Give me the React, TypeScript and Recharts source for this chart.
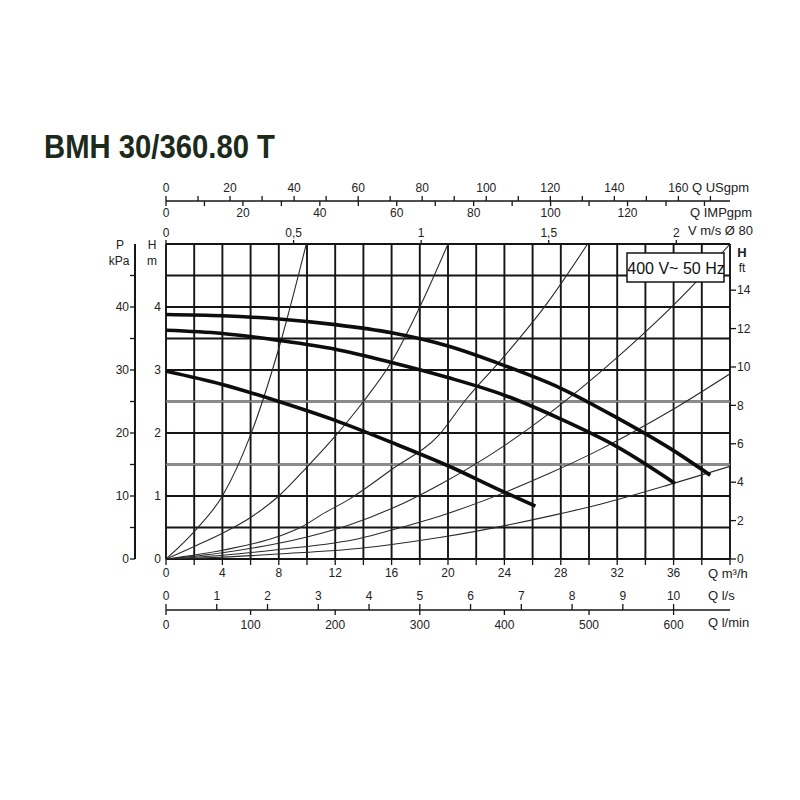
import React from 'react';
import { LineChart, Line, XAxis, YAxis, CartesianGrid, ReferenceLine } from 'recharts';

// pump curves, three speeds (Q m³/h -> H m)
const speed3Q = [0, 4, 8, 12, 16, 20, 24, 28, 32, 36, 38.6];
const speed3H = [3.88, 3.86, 3.81, 3.72, 3.59, 3.38, 3.07, 2.71, 2.24, 1.72, 1.33];
const speed2Q = [0, 4, 8, 12, 16, 20, 24, 28, 32, 36.1];
const speed2H = [3.63, 3.58, 3.47, 3.33, 3.12, 2.88, 2.6, 2.22, 1.78, 1.2];
const speed1Q = [0, 4, 8, 12, 16, 20, 24, 26.2];
const speed1H = [2.98, 2.77, 2.5, 2.2, 1.85, 1.48, 1.06, 0.84];

// system curves (thin)
const sys1Q = [0, 2.1, 4, 6, 8.2, 9.95];
const sys1H = [0, 0.46, 1.0, 1.97, 3.5, 5.0];
const sys2Q = [0, 2, 4, 6, 8, 10, 12, 14, 16, 18, 20];
const sys2H = [0, 0.2, 0.41, 0.66, 1.0, 1.46, 1.95, 2.5, 3.13, 4.0, 5.0];
const sys3Q = [0, 4, 8, 9.7, 11, 13, 16, 19.4, 21.3, 24, 27, 29.9];
const sys3H = [0, 0.14, 0.36, 0.52, 0.7, 0.95, 1.42, 1.98, 2.54, 3.22, 4.05, 5.0];
const sys4Q = [0, 4, 8, 10, 13, 16, 19.4, 24, 27, 32, 37.6, 40];
const sys4H = [0, 0.1, 0.25, 0.35, 0.54, 0.8, 1.18, 1.8, 2.28, 3.2, 4.4, 5.0];
const sys5Q = [0, 4, 8, 13.8, 16, 19.4, 27.2, 30.8, 36, 40];
const sys5H = [0, 0.06, 0.15, 0.33, 0.46, 0.68, 1.36, 1.74, 2.38, 2.94];
const sys6Q = [0, 4, 8, 13.8, 16, 19.4, 27.2, 30.8, 36, 40];
const sys6H = [0, 0.03, 0.08, 0.17, 0.23, 0.34, 0.68, 0.87, 1.2, 1.47];

// axis ticks
const m3hTicks = [0, 2, 4, 6, 8, 10, 12, 14, 16, 18, 20, 22, 24, 26, 28, 30, 32, 34, 36, 38, 40];
const hTicks = [0, 0.5, 1, 1.5, 2, 2.5, 3, 3.5, 4, 4.5, 5];
const kpaTicks = [0, 5, 10, 15, 20, 25, 30, 35, 40, 45];
const ftTicks = [0, 2, 4, 6, 8, 10, 12, 14];
const usTicks = [0, 10, 20, 30, 40, 50, 60, 70, 80, 90, 100, 110, 120, 130, 140, 150, 160, 170];
const impTicks = [0, 10, 20, 30, 40, 50, 60, 70, 80, 90, 100, 110, 120, 130, 140];
const vTicks = [0, 0.5, 1, 1.5, 2];
const lsTicks = [0, 1, 2, 3, 4, 5, 6, 7, 8, 9, 10];
const lminTicks = [0, 100, 200, 300, 400, 500, 600];
const greyRows = [1.5, 2.5];

const Q_MAX = 40;
const H_MAX = 5;
const US_PER_M3H = 4.4029;
const IMP_PER_M3H = 3.6661;
const pipeArea = Math.PI * 0.04 * 0.04; // DN80

const zip = (qs: number[], hs: number[]) => qs.map((q, i) => ({ q, h: hs[i] }));

const pumpCurves = [zip(speed3Q, speed3H), zip(speed2Q, speed2H), zip(speed1Q, speed1H)];
const systemCurves = [
  zip(sys1Q, sys1H), zip(sys2Q, sys2H), zip(sys3Q, sys3H),
  zip(sys4Q, sys4H), zip(sys5Q, sys5H), zip(sys6Q, sys6H),
];

// flow in the other units, so the secondary scales have values to work from
const flowTable = m3hTicks.map(q => ({
  q,
  us: q * US_PER_M3H,
  imp: q * IMP_PER_M3H,
  v: q / 3600 / pipeArea,
  ls: q / 3.6,
  lmin: (q * 1000) / 60,
}));

const ink = '#151515';
const tickFont = { fill: '#222', fontSize: 12 };

// IMPgpm: ticks hang under the shared top line, labels below
const ImpTick = (p: any) => {
  const v = p.payload.value;
  return (
    <g>
      <line x1={p.x} x2={p.x} y1={p.y - 1} y2={p.y + 4} stroke={ink} strokeWidth={1.3} />
      {v % 20 === 0 && v <= 120 ? (
        <text x={p.x} y={p.y + 15} textAnchor="middle" fontSize={12} fill="#222">{v}</text>
      ) : null}
    </g>
  );
};

// l/s: ticks stand on the shared bottom line, labels above
const LsTick = (p: any) => {
  const v = p.payload.value;
  return (
    <g>
      <line x1={p.x} x2={p.x} y1={p.y + 1} y2={p.y - 5} stroke={ink} strokeWidth={1.3} />
      <text x={p.x} y={p.y - 9} textAnchor="middle" fontSize={12} fill="#222">{v}</text>
    </g>
  );
};

export default function App() {
  return (
    <div style={{
      position: 'absolute', left: 0, top: 0, width: 800, height: 800, background: '#fff',
      fontFamily: "'Liberation Sans', Arial, sans-serif",
    }}>
      <LineChart width={800} height={800} data={flowTable} margin={{ top: 171, right: 30, bottom: 160, left: 95 }}>
        <CartesianGrid stroke={ink} strokeWidth={1.9} horizontalValues={hTicks} verticalValues={m3hTicks} />

        <XAxis
          type="number" dataKey="q" domain={[0, Q_MAX]} ticks={m3hTicks} interval={0}
          height={50} tickSize={6} tickMargin={3} axisLine={false}
          tickLine={{ stroke: ink, strokeWidth: 1.3 }} tick={tickFont}
          tickFormatter={v => (v % 4 === 0 && v <= 36 ? String(v) : '')}
          allowDataOverflow
        />
        <XAxis
          xAxisId="b1ls" dataKey="ls" orientation="bottom" type="number" domain={[0, Q_MAX / 3.6]} ticks={lsTicks}
          interval={0} height={1} tickSize={0} tickMargin={0} axisLine={false} tickLine={false}
          tick={<LsTick />} allowDataOverflow
        />
        <XAxis
          xAxisId="b2lmin" dataKey="lmin" orientation="bottom" type="number" domain={[0, (Q_MAX * 1000) / 60]}
          ticks={lminTicks} interval={0} height={30} tickSize={5} tickMargin={5}
          axisLine={{ stroke: ink, strokeWidth: 1.5 }} tickLine={{ stroke: ink, strokeWidth: 1.3 }}
          tick={tickFont} allowDataOverflow
        />

        <XAxis
          xAxisId="a1v" dataKey="v" orientation="top" type="number" domain={[0, Q_MAX / 3600 / pipeArea]} ticks={vTicks}
          interval={0} height={42} tickSize={4} tickMargin={3} axisLine={false}
          tickLine={{ stroke: ink, strokeWidth: 1.3 }} tick={tickFont}
          tickFormatter={v => String(v).replace('.', ',')} allowDataOverflow
        />
        <XAxis
          xAxisId="a2imp" dataKey="imp" orientation="top" type="number" domain={[0, Q_MAX * IMP_PER_M3H]} ticks={impTicks}
          interval={0} height={1} tickSize={0} tickMargin={0} axisLine={false} tickLine={false}
          tick={<ImpTick />} allowDataOverflow
        />
        <XAxis
          xAxisId="a3us" dataKey="us" orientation="top" type="number" domain={[0, Q_MAX * US_PER_M3H]} ticks={usTicks}
          interval={0} height={30} tickSize={5} tickMargin={4}
          axisLine={{ stroke: ink, strokeWidth: 1.5 }} tickLine={{ stroke: ink, strokeWidth: 1.3 }}
          tick={tickFont} tickFormatter={v => (v % 20 === 0 && v <= 160 ? String(v) : '')}
          allowDataOverflow
        />

        <YAxis
          type="number" domain={[0, H_MAX]} ticks={hTicks} interval={0} width={31}
          tickSize={3} tickMargin={2} axisLine={false} tickLine={false} tick={tickFont}
          tickFormatter={v => (Number.isInteger(v) && v < 5 ? String(v) : '')}
          allowDataOverflow
        />
        <YAxis
          yAxisId="kpa" orientation="left" type="number" domain={[0, H_MAX * 10]} ticks={kpaTicks}
          interval={0} width={40} tickSize={5} tickMargin={1}
          axisLine={{ stroke: ink, strokeWidth: 2 }} tickLine={{ stroke: ink, strokeWidth: 1.3 }}
          tick={tickFont} tickFormatter={v => (v % 10 === 0 ? String(v) : '')}
          allowDataOverflow
        />
        <YAxis
          yAxisId="ft" orientation="right" type="number" domain={[0, H_MAX * 3.28084]} ticks={ftTicks}
          interval={0} width={40} tickSize={6} tickMargin={1} axisLine={false}
          tickLine={{ stroke: ink, strokeWidth: 1.3 }} tick={tickFont}
          allowDataOverflow
        />

        {greyRows.map(y => (
          <ReferenceLine key={y} y={y} stroke="#8c8c8c" strokeWidth={2.2} />
        ))}

        {systemCurves.map((d, i) => (
          <Line
            key={'s' + i} data={d} dataKey="h" type="monotone" stroke="#2a2a2a" strokeWidth={1.1}
            dot={false} activeDot={false} isAnimationActive={false}
          />
        ))}
        {pumpCurves.map((d, i) => (
          <Line
            key={'p' + i} data={d} dataKey="h" type="monotone" stroke="#0d0d0d" strokeWidth={3.6}
            dot={false} activeDot={false} isAnimationActive={false}
          />
        ))}
      </LineChart>

      <svg width={800} height={800} style={{ position: 'absolute', left: 0, top: 0, pointerEvents: 'none' }}>
        <text x={44} y={158} fontFamily="'Liberation Sans Narrow', 'Arial Narrow', sans-serif" fontWeight="bold"
          fontSize={34} fill="#1c2a1c" textLength={231} lengthAdjust="spacingAndGlyphs">BMH 30/360.80 T</text>

        <g fontSize={13} fill="#222">
          <text x={692} y={192}>Q USgpm</text>
          <text x={690} y={217}>Q IMPgpm</text>
          <text x={688} y={235}>V m/s Ø 80</text>
          <text x={708} y={578}>Q m³/h</text>
          <text x={708} y={600}>Q l/s</text>
          <text x={708} y={627}>Q l/min</text>
        </g>
        <g fontSize={12} fill="#222" textAnchor="middle">
          <text x={120} y={249}>P</text>
          <text x={119} y={265}>kPa</text>
          <text x={152} y={249}>H</text>
          <text x={152} y={265}>m</text>
          <text x={742} y={257} fontWeight="bold" fontSize={13}>H</text>
          <text x={742} y={272}>ft</text>
        </g>

        <rect x={627} y={253} width={97} height={29} fill="#fff" stroke={ink} strokeWidth={1.5} />
        <text x={676} y={274} textAnchor="middle" fontSize={16}
          fontFamily="'Liberation Sans Narrow', 'Arial Narrow', sans-serif" fill="#111">400 V~ 50 Hz</text>
      </svg>
    </div>
  );
}
